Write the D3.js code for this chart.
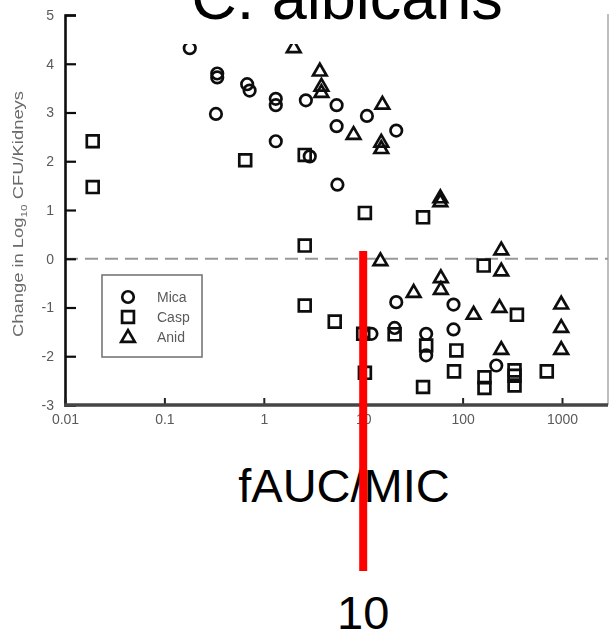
<!DOCTYPE html>
<html>
<head>
<meta charset="utf-8">
<script src="https://cdn.jsdelivr.net/npm/d3@7"></script>
<style>
  body { margin: 0; background: #fff; }
  svg { display: block; }
</style>
</head>
<body>
<svg id="chart" width="610" height="632"></svg>
<script>
// Mica (circles)
const micaX = [0.18, 0.34, 0.34, 0.68, 0.72, 0.33, 1.32, 1.32, 1.32, 2.65, 2.9, 5.4, 5.4, 5.5, 10.9, 21.5, 12.1, 21.5, 20.7, 43, 43, 81, 81, 218];
const micaY = [4.32, 3.80, 3.72, 3.58, 3.45, 2.97, 3.28, 3.15, 2.41, 3.25, 2.10, 3.15, 2.72, 1.52, 2.93, 2.63, -1.54, -0.89, -1.42, -1.54, -1.98, -0.94, -1.45, -2.19];

// Casp (squares)
const caspX = [0.019, 0.019, 0.65, 2.58, 2.58, 2.58, 5.17, 10.4, 10, 10.4, 40, 20.7, 43, 40, 86.5, 82, 163, 352, 166, 166, 333, 333, 333, 703];
const caspY = [2.41, 1.47, 2.02, 2.13, 0.27, -0.96, -1.29, 0.94, -1.54, -2.34, 0.85, -1.55, -1.78, -2.63, -1.88, -2.31, -0.14, -1.15, -2.43, -2.65, -2.29, -2.40, -2.60, -2.31];

// Anid (triangles)
const anidX = [2.0, 3.66, 3.8, 3.8, 8.0, 15.6, 15.2, 15.2, 59.7, 59.7, 14.9, 32.2, 60.4, 60.4, 129, 245, 245, 235, 245, 982, 982, 982];
const anidY = [4.34, 3.86, 3.55, 3.42, 2.56, 3.18, 2.40, 2.27, 1.26, 1.18, -0.03, -0.68, -0.38, -0.62, -1.13, 0.19, -0.24, -0.99, -1.85, -0.92, -1.40, -1.85];

const xTicks = [0.01, 0.1, 1, 10, 100, 1000];
const xTickLabels = ["0.01", "0.1", "1", "10", "100", "1000"];
const yTicks = [-3, -2, -1, 0, 1, 2, 3, 4, 5];
const legendNames = ["Mica", "Casp", "Anid"];
const markedX = 10;

const svg = d3.select("#chart");

const x = d3.scaleLog().domain([0.01, 1000]).range([65, 562]);
const y = d3.scaleLinear().domain([-3, 5]).range([405, 15]);

// soft look of the scanned figure
svg.append("defs").append("filter")
    .attr("id", "soft")
    .append("feGaussianBlur")
    .attr("stdDeviation", 0.45);

const plot = svg.append("g").attr("filter", "url(#soft)");

// right frame edge
plot.append("line")
    .attr("x1", 608).attr("x2", 608)
    .attr("y1", y(5) - 1).attr("y2", y(-3))
    .attr("stroke", "#aaa")
    .attr("stroke-width", 1.5);

// zero reference line
plot.append("line")
    .attr("x1", x(0.01)).attr("x2", 608)
    .attr("y1", y(0)).attr("y2", y(0))
    .attr("stroke", "#999")
    .attr("stroke-width", 1.8)
    .attr("stroke-dasharray", "13,7");

// y axis
const yAxis = plot.append("g")
    .attr("transform", "translate(" + x(0.01) + ",0)")
    .call(d3.axisLeft(y).tickValues(yTicks).tickSize(-11).tickFormat(d3.format("d")));
yAxis.select(".domain").attr("stroke", "#111").attr("stroke-width", 2.6);
yAxis.selectAll(".tick line").attr("stroke", "#111").attr("stroke-width", 2.2);
yAxis.selectAll(".tick text")
    .attr("x", -11)
    .attr("fill", "#5a5a5a")
    .attr("font-family", "Liberation Sans, Arial, sans-serif")
    .attr("font-size", "14px")
    .text(d => d < 0 ? "-" + Math.abs(d) : d);

// x axis
const xAxis = plot.append("g")
    .attr("transform", "translate(0," + y(-3) + ")")
    .call(d3.axisBottom(x).tickValues(xTicks).tickSize(-7).tickFormat((d, i) => xTickLabels[i]));
xAxis.select(".domain").remove();
xAxis.append("line")
    .attr("x1", x(0.01) - 1).attr("x2", 608)
    .attr("stroke", "#444")
    .attr("stroke-width", 3.5);
xAxis.selectAll(".tick line").attr("stroke", "#222").attr("stroke-width", 2);
xAxis.selectAll(".tick text")
    .attr("y", 9)
    .attr("fill", "#5a5a5a")
    .attr("font-family", "Liberation Sans, Arial, sans-serif")
    .attr("font-size", "14px");

// y axis title
plot.append("text")
    .attr("transform", "translate(23,214) rotate(-90)")
    .attr("text-anchor", "middle")
    .attr("fill", "#6a6a6a")
    .attr("font-family", "Liberation Sans, Arial, sans-serif")
    .attr("font-size", "14px")
    .attr("textLength", 246)
    .attr("lengthAdjust", "spacingAndGlyphs")
    .html("Change in Log<tspan font-size='9px' dy='4'>10</tspan><tspan dy='-4'> CFU/Kidneys</tspan>");

// markers
const markStroke = "#0d0d0d";
const circleSym = d3.symbol().type(d3.symbolCircle).size(104);
const squareSym = d3.symbol().type(d3.symbolSquare).size(140);
const triSym = d3.symbol().type(d3.symbolTriangle).size(80);

function drawSeries(xs, ys, sym, dy) {
    plot.append("g")
        .selectAll("path")
        .data(xs.map((v, i) => [v, ys[i]]))
        .enter()
        .append("path")
        .attr("d", sym)
        .attr("transform", d => "translate(" + x(d[0]) + "," + (y(d[1]) + dy) + ")")
        .attr("fill", "none")
        .attr("stroke", markStroke)
        .attr("stroke-width", 2.7);
}
drawSeries(caspX, caspY, squareSym, 0);
drawSeries(micaX, micaY, circleSym, 0);
drawSeries(anidX, anidY, triSym, 1);

// legend
const legend = plot.append("g").attr("transform", "translate(102,275)");
legend.append("rect")
    .attr("width", 100).attr("height", 82)
    .attr("fill", "#fff")
    .attr("stroke", "#777")
    .attr("stroke-width", 1.6);
const legendSyms = [circleSym, squareSym, triSym];
legendNames.forEach((name, i) => {
    legend.append("path")
        .attr("d", legendSyms[i])
        .attr("transform", "translate(26," + (22 + i * 20 + (i === 2 ? 1 : 0)) + ")")
        .attr("fill", "none")
        .attr("stroke", markStroke)
        .attr("stroke-width", 2.7);
    legend.append("text")
        .attr("x", 55)
        .attr("y", 22 + i * 20)
        .attr("dy", "0.35em")
        .attr("fill", "#5a5a5a")
        .attr("font-family", "Liberation Sans, Arial, sans-serif")
        .attr("font-size", "14px")
        .text(name);
});

// title over a white patch
svg.append("rect")
    .attr("x", 170).attr("y", 0)
    .attr("width", 360).attr("height", 44)
    .attr("fill", "#fff");
svg.append("text")
    .attr("x", 347)
    .attr("y", 19)
    .attr("text-anchor", "middle")
    .attr("font-family", "Liberation Sans, Arial, sans-serif")
    .attr("font-size", "63px")
    .attr("fill", "#000")
    .text("C. albicans");

// x axis title
svg.append("text")
    .attr("x", 344)
    .attr("y", 502)
    .attr("text-anchor", "middle")
    .attr("font-family", "Liberation Sans, Arial, sans-serif")
    .attr("font-size", "47px")
    .attr("fill", "#000")
    .text("fAUC/MIC");

// marker at x = 10
svg.append("line")
    .attr("x1", x(markedX)).attr("x2", x(markedX))
    .attr("y1", 251).attr("y2", 571)
    .attr("stroke", "#ff0000")
    .attr("stroke-width", 8);
svg.append("text")
    .attr("x", x(markedX))
    .attr("y", 629)
    .attr("text-anchor", "middle")
    .attr("font-family", "Liberation Sans, Arial, sans-serif")
    .attr("font-size", "47px")
    .attr("fill", "#000")
    .text(markedX);
</script>
</body>
</html>
